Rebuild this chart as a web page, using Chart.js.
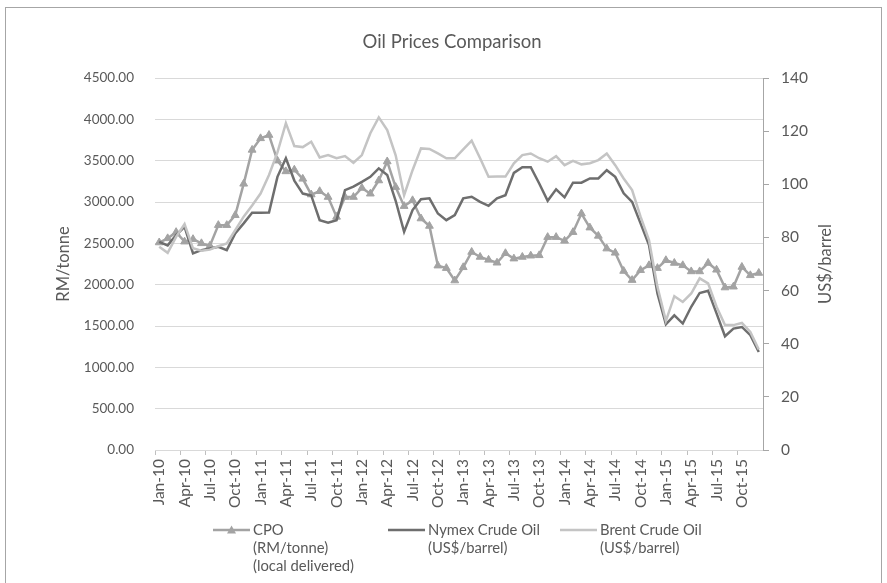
<!DOCTYPE html>
<html><head><meta charset="utf-8">
<script src="https://cdn.jsdelivr.net/npm/chart.js@4.4.1/dist/chart.umd.min.js"></script>
<style>html,body{margin:0;padding:0;background:#fff;}#wrap{width:887px;height:583px;}</style>
</head><body><div id="wrap"><canvas id="c" width="887" height="583"></canvas></div>
<script>
const months = [
 "Jan-10","Feb-10","Mar-10","Apr-10","May-10","Jun-10","Jul-10","Aug-10","Sep-10","Oct-10","Nov-10","Dec-10",
 "Jan-11","Feb-11","Mar-11","Apr-11","May-11","Jun-11","Jul-11","Aug-11","Sep-11","Oct-11","Nov-11","Dec-11",
 "Jan-12","Feb-12","Mar-12","Apr-12","May-12","Jun-12","Jul-12","Aug-12","Sep-12","Oct-12","Nov-12","Dec-12",
 "Jan-13","Feb-13","Mar-13","Apr-13","May-13","Jun-13","Jul-13","Aug-13","Sep-13","Oct-13","Nov-13","Dec-13",
 "Jan-14","Feb-14","Mar-14","Apr-14","May-14","Jun-14","Jul-14","Aug-14","Sep-14","Oct-14","Nov-14","Dec-14",
 "Jan-15","Feb-15","Mar-15","Apr-15","May-15","Jun-15","Jul-15","Aug-15","Sep-15","Oct-15","Nov-15","Dec-15"
];
// CPO (RM/tonne, local delivered) - left axis
const cpo = [
 2510,2560,2635,2520,2550,2500,2470,2720,2720,2840,3220,3630,
 3770,3810,3500,3370,3390,3280,3090,3130,3060,2820,3060,3060,
 3170,3100,3260,3490,3180,2950,3020,2800,2710,2230,2200,2050,
 2210,2395,2335,2300,2265,2380,2315,2335,2350,2355,2575,2575,
 2530,2635,2860,2690,2590,2436,2385,2165,2055,2175,2234,2200,
 2295,2262,2234,2160,2160,2262,2180,1965,1975,2214,2113,2141
];
// Nymex Crude Oil (US$/barrel) - right axis
const nymex = [
 78.3,77.0,80.9,84.0,74.0,75.2,75.8,76.5,75.2,81.5,85.3,89.3,
 89.3,89.4,102.8,109.8,101.4,96.5,95.8,86.5,85.5,86.5,97.8,99.1,
 100.9,102.8,106.0,103.5,93.8,82.1,90.3,94.4,94.7,89.0,86.5,88.4,
 94.7,95.3,93.4,91.9,94.7,95.9,104.3,106.4,106.4,100.3,93.8,98.1,
 95.1,100.6,100.6,102.2,102.2,105.3,102.8,96.6,93.4,85.3,77.1,58.9,
 47.3,50.7,47.6,53.9,59.1,59.9,51.4,42.8,45.7,46.3,43.2,36.9
];
// Brent Crude Oil (US$/barrel) - right axis
const brent = [
 76.5,74.2,80.2,85.0,75.9,75.0,75.4,76.7,77.7,82.7,87.8,92.0,
 96.5,103.5,112.0,123.0,114.4,114.0,116.0,110.1,111.0,109.8,110.6,108.1,
 111.0,119.2,125.2,120.4,110.9,95.9,105.3,113.5,113.3,111.6,109.8,109.8,
 113.1,116.4,109.8,102.8,102.9,102.9,107.9,111.0,111.6,109.8,108.5,110.6,
 107.2,108.8,107.5,107.9,109.1,111.6,107.2,102.2,97.8,87.8,79.0,61.4,
 48.6,57.9,55.7,58.9,64.6,62.7,53.9,47.0,47.0,47.8,44.4,37.8
];
const leftTicks = [0,500,1000,1500,2000,2500,3000,3500,4000,4500];
const rightTicks = [0,20,40,60,80,100,120,140];

const FONT = 'Lato, "Open Sans", sans-serif';
const TXT = '#595959';
const C_CPO = '#a3a3a3', C_NYM = '#6e6e6e', C_BRE = '#c4c4c4';

const decor = {
  id: 'decor',
  beforeDraw(chart) {
    const ctx = chart.ctx;
    ctx.save();
    ctx.fillStyle = '#fff';
    ctx.fillRect(0, 0, chart.width, chart.height);
    ctx.strokeStyle = '#a6a6a6';
    ctx.lineWidth = 1;
    ctx.strokeRect(5.5, 7.5, 876, 600);
    ctx.restore();
  },
  afterDraw(chart) {
    const ctx = chart.ctx;
    ctx.save();
    ctx.fillStyle = TXT;
    ctx.textAlign = 'center';
    ctx.textBaseline = 'middle';
    ctx.font = '18.5px ' + FONT;
    ctx.fillText('Oil Prices Comparison', 452, 42);
    ctx.font = '16.5px ' + FONT;
    ctx.save(); ctx.translate(64, 264); ctx.rotate(-Math.PI / 2); ctx.fillText('RM/tonne', 0, 0); ctx.restore();
    ctx.save(); ctx.translate(826, 264); ctx.rotate(-Math.PI / 2); ctx.fillText('US$/barrel', 0, 0); ctx.restore();
    // legend
    ctx.font = '14.8px ' + FONT;
    ctx.textAlign = 'left';
    ctx.lineWidth = 2.5;
    const items = [
      {x: 213, color: C_CPO, tri: true, lines: ['CPO', '(RM/tonne)', '(local delivered)']},
      {x: 388, color: C_NYM, tri: false, lines: ['Nymex Crude Oil', '(US$/barrel)']},
      {x: 560, color: C_BRE, tri: false, lines: ['Brent Crude Oil', '(US$/barrel)']}
    ];
    items.forEach(it => {
      const y = 530;
      ctx.strokeStyle = it.color;
      ctx.beginPath(); ctx.moveTo(it.x, y); ctx.lineTo(it.x + 37, y); ctx.stroke();
      if (it.tri) {
        const cx = it.x + 18.5;
        ctx.fillStyle = it.color;
        ctx.beginPath(); ctx.moveTo(cx, y - 4.5); ctx.lineTo(cx + 4.5, y + 3.5); ctx.lineTo(cx - 4.5, y + 3.5); ctx.closePath(); ctx.fill();
      }
      ctx.fillStyle = TXT;
      it.lines.forEach((t, k) => ctx.fillText(t, it.x + 40, y + k * 18));
    });
    ctx.restore();
  }
};

new Chart(document.getElementById('c'), {
  type: 'line',
  data: {
    labels: months,
    datasets: [
      {label: 'CPO (RM/tonne) (local delivered)', data: cpo, yAxisID: 'y', borderColor: C_CPO, backgroundColor: C_CPO,
       borderWidth: 2.5, pointStyle: 'triangle', pointRadius: 4.5, pointBorderWidth: 1, pointBackgroundColor: C_CPO, pointBorderColor: C_CPO, tension: 0, order: 3},
      {label: 'Nymex Crude Oil (US$/barrel)', data: nymex, yAxisID: 'y1', borderColor: C_NYM, backgroundColor: C_NYM,
       borderWidth: 2.5, pointRadius: 0, tension: 0, order: 2},
      {label: 'Brent Crude Oil (US$/barrel)', data: brent, yAxisID: 'y1', borderColor: C_BRE, backgroundColor: C_BRE,
       borderWidth: 2.5, pointRadius: 0, tension: 0, order: 1}
    ]
  },
  options: {
    responsive: false,
    animation: false,
    devicePixelRatio: 1,
    layout: {padding: {top: 78, left: 0, right: 0, bottom: 0}},
    plugins: {legend: {display: false}, title: {display: false}, tooltip: {enabled: false}},
    scales: {
      x: {
        type: 'category', offset: true,
        grid: {offset: true, drawOnChartArea: false, drawTicks: true, tickLength: 5, lineWidth: 1,
               color: c => (c.index % 3 === 0 ? '#bfbfbf' : 'rgba(0,0,0,0)')},
        border: {display: true, color: '#d9d9d9', width: 1},
        ticks: {autoSkip: false, maxRotation: 90, minRotation: 90, padding: 4, color: TXT, font: {family: FONT, size: 15.5},
                callback: (v, i) => (i % 3 === 0 ? months[i] : '')},
        afterFit: s => { s.height = 133; }
      },
      y: {
        position: 'left', min: 0, max: 4500,
        afterBuildTicks: s => { s.ticks = leftTicks.map(v => ({value: v})); },
        grid: {color: '#d9d9d9', lineWidth: 1, drawTicks: false},
        border: {display: false},
        ticks: {padding: 21, color: TXT, font: {family: FONT, size: 13.5}, callback: v => Number(v).toFixed(2)},
        afterFit: s => { s.width = 155; }
      },
      y1: {
        position: 'right', min: 0, max: 140,
        afterBuildTicks: s => { s.ticks = rightTicks.map(v => ({value: v})); },
        grid: {drawOnChartArea: false, drawTicks: true, tickLength: 6, color: '#a6a6a6'},
        border: {display: true, color: '#a6a6a6', width: 1},
        ticks: {padding: 12, color: TXT, font: {family: FONT, size: 15.5}},
        afterFit: s => { s.width = 124; }
      }
    }
  },
  plugins: [decor]
});
</script></body></html>
